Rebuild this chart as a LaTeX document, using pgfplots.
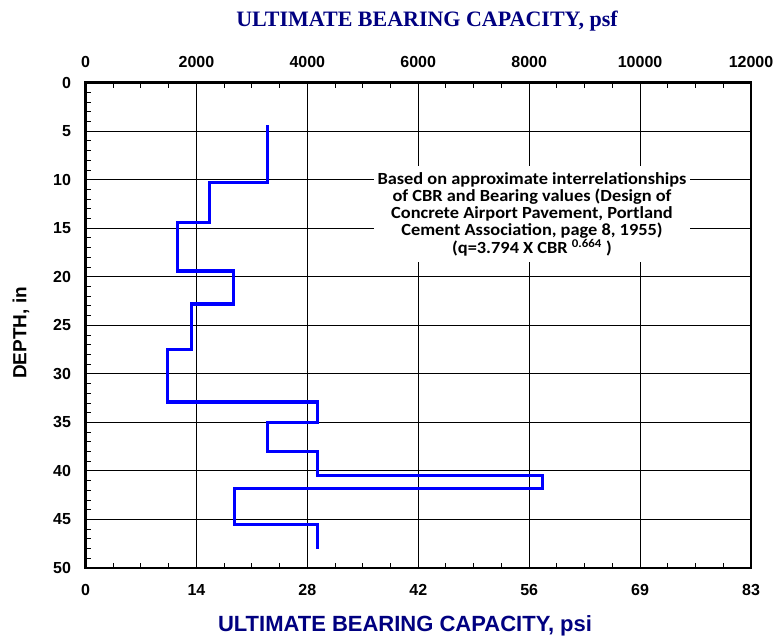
\documentclass[border=0pt]{standalone}
\usepackage{pgfplots}
\pgfplotsset{compat=1.18}
\usepackage{fontspec}
\setmainfont{Liberation Sans}
\newfontfamily\serifb{Liberation Serif}
\newfontfamily\calib[FakeStretch=1.08]{Carlito}
\definecolor{navy}{RGB}{0,0,128}
\definecolor{lineblue}{RGB}{0,0,255}
\begin{document}
\begin{tikzpicture}[x=1pt,y=1pt]
\path[use as bounding box] (0,0) rectangle (782,640);
\pgfplotsset{
  common/.style={
    scale only axis, width=665.5pt, height=485.3pt,
    at={(85.5pt,72pt)}, anchor=south west,
    xmin=0, xmax=12000, ymin=0, ymax=50, y dir=reverse,
    xtick={0,2000,...,12000}, minor x tick num=3,
    scaled x ticks=false,
    tick align=inside,
    major tick length=5pt, minor tick length=5pt,
    every tick/.style={black, line width=1pt},
    axis line style={black, line width=2.6pt},
    /pgf/number format/assume math mode=true,
    tick label style={font=\fontsize{16}{18}\selectfont\bfseries},
  }
}
\begin{axis}[common,
  xticklabel pos=upper, xtick pos=upper,
  ytick={0,5,...,50}, minor y tick num=4, ytick pos=left,
  grid=major, major grid style={black, line width=0.9pt},
  xticklabel style={/pgf/number format/.cd, 1000 sep={}, precision=0, fixed},
  xticklabel shift=12pt, yticklabel shift=11pt,
]
\addplot[lineblue, line width=3.2pt, line join=miter] coordinates {
(3285,4.4) (3285,10.3) (2232,10.3) (2232,14.4) (1663,14.4) (1663,19.4)
(2672,19.4) (2672,22.8) (1915,22.8) (1915,27.5) (1475,27.5) (1475,32.9)
(4180,32.9) (4180,35.0) (3278,35.0) (3278,38.0) (4180,38.0) (4180,40.5)
(8244,40.5) (8244,41.8) (2683,41.8) (2683,45.5) (4180,45.5) (4180,48.0)
};
\node[align=center, fill=white, inner xsep=4pt, inner ysep=6pt, font=\calib\bfseries\fontsize{17}{17}\selectfont] at (axis cs:8051,13.55)
{Based on approximate interrelationships\\of CBR and Bearing values (Design of\\Concrete Airport Pavement, Portland\\Cement Association, page 8, 1955)\\(q=3.794 X CBR \textsuperscript{0.664} )};
\end{axis}
\begin{axis}[common,
  axis x line*=bottom, hide y axis,
  xticklabel pos=lower,
  xticklabels={0,14,28,42,56,69,83},
  xticklabel shift=13pt,
]
\end{axis}
\node[font=\serifb\bfseries\fontsize{22}{26}\selectfont, text=navy] at (427,619) {ULTIMATE BEARING CAPACITY, psf};
\node[font=\bfseries\fontsize{22}{25}\selectfont, text=navy] at (405,14) {ULTIMATE BEARING CAPACITY, psi};
\node[font=\bfseries\fontsize{19}{22}\selectfont, rotate=90] at (21,307) {DEPTH, in};
\end{tikzpicture}
\end{document}
